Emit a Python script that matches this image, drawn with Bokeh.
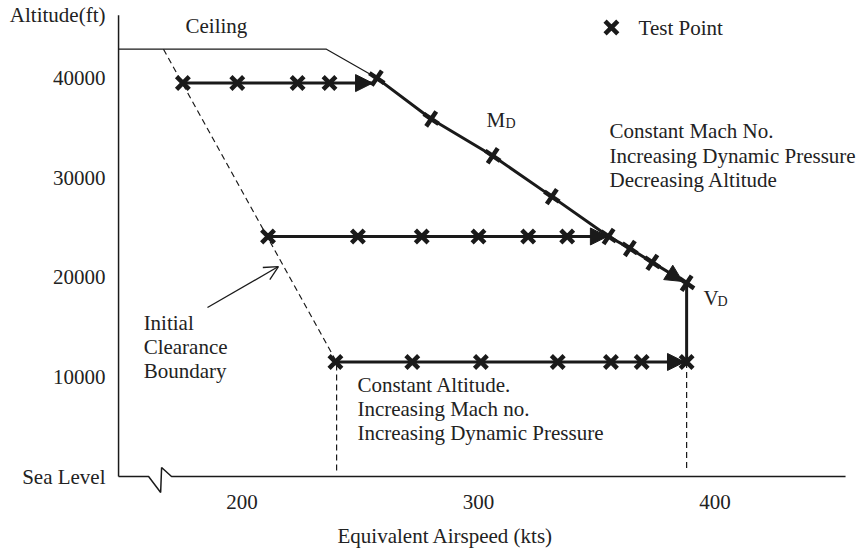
from bokeh.plotting import figure
from bokeh.models import (Range1d, FixedTicker, Label, Arrow, NormalHead, OpenHead, LinearAxis)
from bokeh.embed import file_html
from bokeh.resources import INLINE

FONT = "Liberation Serif"

# ---- data (equivalent airspeed, kts / altitude, ft) ----
ceiling_eas = [147.8, 235.7, 257.0]
ceiling_alt = [42900, 42900, 40000]

boundary_eas = [166.8, 240.0, 240.0]
boundary_alt = [42900, 11500, 600]

vd_drop_eas = [388.0, 388.0]
vd_drop_alt = [11500, 600]

top_eas = [175.0, 198.0, 223.5, 237.0]
top_alt = 39500
top_arrow_tip = 255.2

mid_eas = [211.0, 249.0, 276.0, 300.0, 321.0, 337.5]
mid_alt = 24100
mid_arrow_tip = 354.5

md_eas = [257.0, 280.0, 306.0, 331.0, 355.0, 364.0, 373.5, 388.0]
md_alt = [40000, 35900, 32200, 28100, 24100, 22900, 21500, 19400]

low_eas = [239.5, 272.0, 301.0, 333.5, 356.0, 369.0, 388.0]
low_alt = 11500
low_arrow_tip = 387.1

x_ticks = [200, 300, 400]
y_ticks = [0, 10000, 20000, 30000, 40000, 46300]
y_tick_labels = {0: "Sea Level", 46300: "Altitude(ft)"}
x_title_pos = 286
x_title = {286: "Equivalent Airspeed (kts)"}

# axis lines (with break on the airspeed axis)
yaxis_eas = [147.8, 147.8]
yaxis_alt = [0, 46300]
xaxis_eas = [147.8, 160.5, 165.6, 166.0, 170.2, 455.2]
xaxis_alt = [0, 0, -1600, 900, 0, 0]

p = figure(width=860, height=550, output_backend="svg", toolbar_location=None,
           title=None,
           x_range=Range1d(146.93, 461.52), y_range=Range1d(-1807, 47791),
           min_border_left=116, min_border_right=0, min_border_top=0,
           min_border_bottom=56)
p.outline_line_color = None
p.xgrid.visible = False
p.ygrid.visible = False
p.background_fill_color = "white"
p.border_fill_color = "white"

ax_title = LinearAxis(ticker=FixedTicker(ticks=[x_title_pos]), major_label_overrides=x_title)
p.add_layout(ax_title, "below")

for ax in (p.xaxis[0], p.yaxis[0], ax_title):
    ax.axis_line_color = None
    ax.major_tick_line_color = None
    ax.minor_tick_line_color = None
    ax.major_tick_out = 0
    ax.major_tick_in = 0
    ax.major_label_text_font = FONT
    ax.major_label_text_font_size = "21px"
    ax.major_label_text_color = "#222222"
p.xaxis[0].ticker = FixedTicker(ticks=x_ticks)
p.xaxis[0].major_label_standoff = 0
ax_title.major_label_standoff = 12
p.yaxis[0].ticker = FixedTicker(ticks=y_ticks)
p.yaxis[0].major_label_overrides = y_tick_labels
p.yaxis[0].major_label_standoff = 11

INK = "#1a1a1a"

# axes
p.line(yaxis_eas, yaxis_alt, line_color=INK, line_width=1.5)
p.line(xaxis_eas, xaxis_alt, line_color=INK, line_width=1.5)

# ceiling and boundaries
p.line(ceiling_eas, ceiling_alt, line_color=INK, line_width=1.2)
p.line(boundary_eas, boundary_alt, line_color=INK, line_width=1.2, line_dash="6 4")
p.line(vd_drop_eas, vd_drop_alt, line_color=INK, line_width=1.2, line_dash="6 4")

# flight paths
p.line([top_eas[0], top_arrow_tip], [top_alt, top_alt], line_color=INK, line_width=3)
p.line([mid_eas[0], md_eas[4]], [mid_alt, mid_alt], line_color=INK, line_width=3)
p.line(md_eas, md_alt, line_color=INK, line_width=3)
p.line([low_eas[0], low_eas[-1]], [low_alt, low_alt], line_color=INK, line_width=3)
p.line([md_eas[-1], low_eas[-1]], [md_alt[-1], low_alt], line_color=INK, line_width=3)

# arrow heads
def head(x0, y0, x1, y1):
    p.add_layout(Arrow(end=NormalHead(size=17, fill_color=INK, line_color=INK, line_width=1),
                       x_start=x0, y_start=y0, x_end=x1, y_end=y1, line_color=None))

head(top_eas[-1], top_alt, top_arrow_tip, top_alt)
head(mid_eas[-1], mid_alt, mid_arrow_tip, mid_alt)
head(md_eas[-2], md_alt[-2], 386.3, 19580)
head(low_eas[-2], low_alt, low_arrow_tip, low_alt)

# test points
MS = 18
MW = 4.5
p.scatter(top_eas, [top_alt] * len(top_eas), marker="x", size=MS, line_width=MW, line_color=INK)
p.scatter(mid_eas, [mid_alt] * len(mid_eas), marker="x", size=MS, line_width=MW, line_color=INK)
p.scatter(low_eas, [low_alt] * len(low_eas), marker="x", size=MS, line_width=MW, line_color=INK)
p.scatter(md_eas, md_alt, marker="x", size=MS, line_width=MW, line_color=INK, angle=0.19)

# legend marker
p.scatter([356.2], [45080], marker="x", size=MS, line_width=MW, line_color=INK)

# texts
DY = 720
def lab(x, y, t, size="21px"):
    p.add_layout(Label(x=x, y=y + DY, text=t, text_font=FONT, text_font_size=size,
                       text_color="#222222", text_baseline="alphabetic", text_align="left"))

lab(176.1, 44480, "Ceiling")
lab(367.7, 44280, "Test Point")
lab(303.4, 35040, "M")
lab(311.4, 34740, "D", "14px")
lab(355.4, 33940, "Constant Mach No.")
lab(355.4, 31480, "Increasing Dynamic Pressure")
lab(355.4, 29020, "Decreasing Altitude")
lab(395.1, 17170, "V")
lab(401.1, 16870, "D", "14px")
lab(158.4, 14660, "Initial")
lab(158.4, 12250, "Clearance")
lab(158.4, 9840, "Boundary")
lab(248.8, 8430, "Constant Altitude.")
lab(248.8, 6020, "Increasing Mach no.")
lab(248.8, 3610, "Increasing Dynamic Pressure")

p.add_layout(Arrow(end=OpenHead(size=14, line_color=INK, line_width=1.3),
                   x_start=185.4, y_start=16970, x_end=215.4, y_end=21080,
                   line_color=INK, line_width=1.3))

open("out.html", "w").write(file_html(p, INLINE))
